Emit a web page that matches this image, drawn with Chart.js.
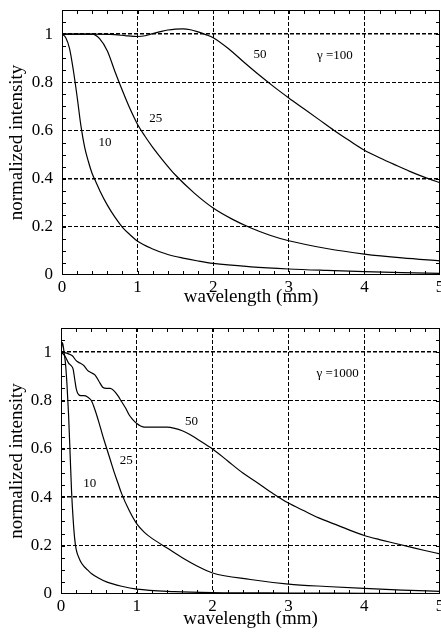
<!DOCTYPE html>
<html>
<head>
<meta charset="utf-8">
<script src="https://cdn.jsdelivr.net/npm/chart.js@4.4.1/dist/chart.umd.min.js"></script>
<style>
  html, body { margin: 0; padding: 0; background: #fff; overflow: hidden; width: 441px; height: 633px; }
  canvas { position: absolute; left: 0; }
  #c1 { top: 0; }
  #c2 { top: 318px; }
</style>
</head>
<body>
<canvas id="c1" width="460" height="308"></canvas>
<canvas id="c2" width="460" height="312"></canvas>
<script>
  // axis ticks
  var xTicks = [0, 1, 2, 3, 4, 5];
  var yTicks = [0, 0.2, 0.4, 0.6, 0.8, 1];

  // gamma = 100 panel
  var top10X = [0, 0.05, 0.1, 0.15, 0.2, 0.25, 0.3, 0.35, 0.4, 0.45, 0.5, 0.6, 0.7, 0.8, 0.9, 1.0, 1.2, 1.4, 1.6, 1.8, 2.0, 2.5, 3, 3.5, 4, 4.5, 5];
  var top10Y = [1, 0.985, 0.94, 0.85, 0.74, 0.62, 0.53, 0.47, 0.42, 0.385, 0.35, 0.29, 0.24, 0.198, 0.167, 0.14, 0.108, 0.085, 0.07, 0.058, 0.048, 0.034, 0.025, 0.019, 0.014, 0.01, 0.007];

  var top25X = [0, 0.2, 0.4, 0.5, 0.6, 0.7, 0.8, 0.9, 1.0, 1.1, 1.2, 1.35, 1.5, 1.75, 2.0, 2.25, 2.5, 2.75, 3, 3.5, 4, 4.5, 5];
  var top25Y = [1, 1, 1, 0.98, 0.93, 0.845, 0.765, 0.69, 0.625, 0.575, 0.53, 0.47, 0.415, 0.34, 0.278, 0.232, 0.195, 0.165, 0.142, 0.11, 0.087, 0.071, 0.059];

  var top50X = [0, 0.4, 0.7, 0.85, 1.0, 1.1, 1.2, 1.3, 1.4, 1.5, 1.6, 1.7, 1.8, 1.9, 2.0, 2.2, 2.4, 2.6, 2.8, 3.0, 3.2, 3.4, 3.6, 3.8, 4.0, 4.2, 4.4, 4.6, 4.8, 5];
  var top50Y = [1, 1, 0.998, 0.993, 0.99, 0.993, 1.002, 1.01, 1.017, 1.021, 1.022, 1.018, 1.009, 0.998, 0.985, 0.94, 0.885, 0.832, 0.782, 0.735, 0.69, 0.645, 0.6, 0.558, 0.518, 0.487, 0.458, 0.43, 0.405, 0.383];

  // gamma = 1000 panel
  var bot10X = [0, 0.02, 0.04, 0.06, 0.08, 0.1, 0.12, 0.14, 0.16, 0.18, 0.2, 0.25, 0.3, 0.35, 0.4, 0.5, 0.6, 0.8, 1.0, 1.5, 2, 3, 4, 5];
  var bot10Y = [1, 1.04, 1.0, 0.95, 0.86, 0.74, 0.58, 0.42, 0.31, 0.23, 0.185, 0.14, 0.115, 0.1, 0.085, 0.065, 0.05, 0.032, 0.02, 0.01, 0.006, 0.004, 0.003, 0.002];

  var bot25X = [0, 0.05, 0.1, 0.13, 0.16, 0.18, 0.2, 0.22, 0.26, 0.3, 0.35, 0.4, 0.45, 0.5, 0.55, 0.6, 0.65, 0.7, 0.75, 0.8, 0.9, 1.0, 1.1, 1.2, 1.4, 1.6, 1.8, 2.0, 2.5, 3, 3.5, 4, 4.5, 5];
  var bot25Y = [1, 0.985, 0.955, 0.945, 0.93, 0.89, 0.85, 0.83, 0.82, 0.82, 0.815, 0.8, 0.76, 0.71, 0.655, 0.605, 0.555, 0.505, 0.46, 0.415, 0.345, 0.29, 0.255, 0.23, 0.19, 0.15, 0.115, 0.087, 0.06, 0.041, 0.031, 0.023, 0.016, 0.011];

  var bot50X = [0, 0.05, 0.1, 0.15, 0.2, 0.25, 0.3, 0.35, 0.4, 0.45, 0.5, 0.55, 0.6, 0.65, 0.7, 0.75, 0.8, 0.85, 0.9, 0.95, 1.0, 1.05, 1.1, 1.2, 1.3, 1.4, 1.5, 1.6, 1.7, 1.8, 1.9, 2.0, 2.2, 2.4, 2.6, 2.8, 3.0, 3.2, 3.4, 3.6, 3.8, 4.0, 4.2, 4.4, 4.6, 4.8, 5];
  var bot50Y = [1, 0.998, 0.993, 0.985, 0.965, 0.955, 0.945, 0.925, 0.915, 0.905, 0.88, 0.855, 0.85, 0.85, 0.84, 0.82, 0.795, 0.77, 0.74, 0.72, 0.705, 0.695, 0.69, 0.69, 0.69, 0.69, 0.685, 0.675, 0.66, 0.64, 0.62, 0.6, 0.55, 0.5, 0.458, 0.415, 0.376, 0.345, 0.315, 0.29, 0.265, 0.242, 0.225, 0.21, 0.195, 0.18, 0.166];

  // curve labels: [text, x, y]
  var topLabels = [['10', 0.57, 0.55], ['25', 1.24, 0.65], ['50', 2.62, 0.915], ['\u03b3 =100', 3.61, 0.912]];
  var botLabels = [['10', 0.38, 0.458], ['25', 0.86, 0.55], ['50', 1.72, 0.715], ['\u03b3 =1000', 3.65, 0.91]];

  var SERIF = "'Liberation Serif', 'Times New Roman', serif";

  function pts(xs, ys) {
    return xs.map(function (x, i) { return { x: x, y: ys[i] }; });
  }

  function lineSet(xs, ys) {
    return {
      data: pts(xs, ys),
      borderColor: '#000',
      borderWidth: 1.2,
      pointRadius: 0,
      fill: false,
      cubicInterpolationMode: 'monotone'
    };
  }

  // frame, inward ticks and curve labels
  var framePlugin = {
    id: 'frame',
    afterDatasetsDraw: function (chart, args, opts) {
      var ctx = chart.ctx, a = chart.chartArea;
      var xs = chart.scales.x, ys = chart.scales.y;
      var i, v, p, len = 4;
      ctx.save();
      ctx.strokeStyle = '#000';
      ctx.lineWidth = 1;
      ctx.beginPath();
      for (i = 1; i < 25; i++) {
        v = i * 0.2;
        p = Math.round(xs.getPixelForValue(v)) + 0.5;
        ctx.moveTo(p, a.bottom); ctx.lineTo(p, a.bottom - len);
        ctx.moveTo(p, a.top); ctx.lineTo(p, a.top + len);
      }
      for (i = 1; i < 22; i++) {
        v = i * 0.05;
        p = Math.round(ys.getPixelForValue(v)) + 0.5;
        ctx.moveTo(a.left, p); ctx.lineTo(a.left + len, p);
        ctx.moveTo(a.right, p); ctx.lineTo(a.right - len, p);
      }
      ctx.stroke();
      ctx.strokeRect(Math.round(a.left) + 0.5, Math.round(a.top) + 0.5,
        Math.round(a.right - a.left) - 1, Math.round(a.bottom - a.top) - 1);

      ctx.fillStyle = '#000';
      ctx.font = '13px ' + SERIF;
      ctx.textAlign = 'center';
      ctx.textBaseline = 'middle';
      opts.labels.forEach(function (l) {
        ctx.fillText(l[0], xs.getPixelForValue(l[1]), ys.getPixelForValue(l[2]));
      });
      ctx.restore();
    }
  };

  function makeChart(id, sets, labels, padTop, xAxisH, yAxisW) {
    return new Chart(document.getElementById(id), {
      type: 'line',
      data: { datasets: sets },
      plugins: [framePlugin],
      options: {
        responsive: false,
        animation: false,
        layout: { padding: { top: padTop, right: 20, left: 0, bottom: 0 } },
        scales: {
          x: {
            type: 'linear',
            min: 0,
            max: 5,
            afterBuildTicks: function (s) { s.ticks = xTicks.map(function (v) { return { value: v }; }); },
            afterFit: function (s) { s.height = xAxisH; },
            ticks: {
              color: '#000',
              padding: 2,
              maxRotation: 0,
              font: { family: SERIF, size: 17 }
            },
            grid: {
              drawTicks: false,
              color: function (c) { return (c.tick && (c.tick.value === 0 || c.tick.value === 5)) ? 'rgba(0,0,0,0)' : '#000'; },
              lineWidth: 1
            },
            border: { display: false, dash: [4, 2] },
            title: {
              display: true,
              text: 'wavelength (mm)',
              color: '#000',
              padding: { top: 0, bottom: 0 },
              font: { family: SERIF, size: 19 }
            }
          },
          y: {
            type: 'linear',
            min: 0,
            max: 1.1,
            afterBuildTicks: function (s) { s.ticks = yTicks.map(function (v) { return { value: v }; }); },
            afterFit: function (s) {
              s.width = yAxisW;
              s.paddingTop = 0;
              s.paddingBottom = 0;
            },
            ticks: {
              color: '#000',
              padding: 9,
              font: { family: SERIF, size: 17 },
              callback: function (v) { return String(Math.round(v * 10) / 10); }
            },
            grid: {
              drawTicks: false,
              color: function (c) { return (c.tick && c.tick.value === 0) ? 'rgba(0,0,0,0)' : '#000'; },
              lineWidth: function (c) {
                var v = c.tick ? c.tick.value : 0;
                return (Math.abs(v - 0.4) < 1e-6 || Math.abs(v - 1) < 1e-6) ? 1.6 : 1;
              }
            },
            border: { display: false, dash: [4, 2] },
            title: {
              display: true,
              text: 'normalized intensity',
              color: '#000',
              padding: { top: 6, bottom: 0 },
              font: { family: SERIF, size: 19 }
            }
          }
        },
        plugins: {
          legend: { display: false },
          tooltip: { enabled: false },
          frame: { labels: labels }
        }
      }
    });
  }

  makeChart('c1', [lineSet(top10X, top10Y), lineSet(top25X, top25Y), lineSet(top50X, top50Y)], topLabels, 10, 33, 62);
  makeChart('c2', [lineSet(bot10X, bot10Y), lineSet(bot25X, bot25Y), lineSet(bot50X, bot50Y)], botLabels, 10, 36, 61);
</script>
</body>
</html>
